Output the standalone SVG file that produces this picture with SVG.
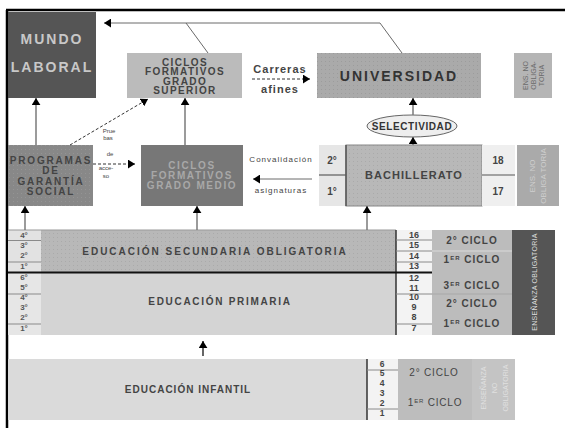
<svg xmlns="http://www.w3.org/2000/svg" width="565" height="428" viewBox="0 0 565 428">
<defs>
<style>
text{font-family:"Liberation Sans",Arial,sans-serif}
.b{font-weight:bold}
.m{text-anchor:middle}
.conn{fill:none;stroke:#7a7a7a;stroke-width:1.5}
.thin{fill:none;stroke:#6a6a6a;stroke-width:1}
.dash{fill:none;stroke:#333;stroke-width:1;stroke-dasharray:3 2}
.sep{stroke:#8a8a8a;stroke-width:1}
.dk{fill:#444}
</style>
<marker id="ah" viewBox="0 0 8 10" refX="8" refY="5" markerWidth="7" markerHeight="9" markerUnits="userSpaceOnUse" orient="auto"><path d="M0,0L8,5L0,10z" fill="#000"/></marker>
<pattern id="dotA" width="4" height="4" patternUnits="userSpaceOnUse"><rect width="4" height="4" fill="#aaaaaa"/><rect x="1" y="1" width="1" height="1" fill="#9c9c9c"/></pattern>
<pattern id="dotB" width="4" height="4" patternUnits="userSpaceOnUse"><rect width="4" height="4" fill="#b8b8b8"/><rect x="1" y="1" width="1" height="1" fill="#aaaaaa"/></pattern>
<pattern id="dotC" width="4" height="4" patternUnits="userSpaceOnUse"><rect width="4" height="4" fill="#888888"/><rect x="1" y="1" width="1" height="1" fill="#949494"/></pattern>
</defs>
<rect width="565" height="428" fill="#fff"/>
<g id="frame">
<line x1="6" y1="10" x2="565" y2="10" stroke="#000" stroke-width="2.5"/>
<line x1="7" y1="10" x2="7" y2="428" stroke="#000" stroke-width="2.5"/>
</g>

<g id="mundo-laboral">
<rect x="8" y="12" width="88" height="86" fill="#555"/>
<text class="b m" x="52" y="44" font-size="14" letter-spacing="2" fill="#c8c8c8">MUNDO</text>
<text class="b m" x="52" y="72" font-size="14" letter-spacing="2" fill="#c8c8c8">LABORAL</text>
</g>

<g id="cfgs">
<rect x="127" y="53" width="115" height="45" fill="#bbb"/>
<g class="b m dk" font-size="10" letter-spacing="1.4">
<text x="185" y="65.5">CICLOS</text>
<text x="185" y="75">FORMATIVOS</text>
<text x="185" y="84.5">GRADO</text>
<text x="185" y="94">SUPERIOR</text>
</g>
</g>

<g id="carreras">
<text class="b m dk" x="280" y="73" font-size="11" letter-spacing="1">Carreras</text>
<text class="b m dk" x="280" y="93" font-size="11" letter-spacing="1">afines</text>
</g>

<g id="universidad">
<rect x="317" y="53" width="164" height="45" fill="url(#dotA)"/>
<text class="b m" x="399" y="80.5" font-size="14" letter-spacing="2" fill="#333">UNIVERSIDAD</text>
</g>

<g id="ens-no-oblig-top">
<rect x="514" y="53" width="38" height="45" fill="#b5b5b5"/>
<g class="m" font-size="7" fill="#6a6a6a">
<text transform="translate(527.5,75.5) rotate(-90)">ENS. NO</text>
<text transform="translate(535.5,75.5) rotate(-90)">OBLIGA-</text>
<text transform="translate(543.5,75.5) rotate(-90)">TORIA</text>
</g>
</g>

<g id="selectividad">
<ellipse cx="412" cy="126" rx="45" ry="11" fill="#eee" stroke="#666" stroke-width="1"/>
<text class="b m" x="412" y="129.5" font-size="10" letter-spacing="0.6" fill="#333">SELECTIVIDAD</text>
</g>

<g id="programas">
<rect x="8" y="145" width="85" height="61" fill="url(#dotC)"/>
<g class="b m dk" font-size="10" letter-spacing="1.8">
<text x="51" y="164">PROGRAMAS</text>
<text x="51" y="174">DE</text>
<text x="51" y="184.5">GARANTÍA</text>
<text x="51" y="194.5">SOCIAL</text>
</g>
</g>

<g id="pruebas">
<g class="m" font-size="6" fill="#444">
<text x="109" y="133">Prue</text>
<text x="108" y="139.5">bas</text>
<text x="110" y="155.5">de</text>
<text x="106" y="169.5">acce-</text>
<text x="106" y="177.5">so</text>
</g>
</g>

<g id="cfgm">
<rect x="141" y="145" width="102" height="61" fill="#777"/>
<g class="b m" font-size="10" letter-spacing="1.6" fill="#a8a8a8">
<text x="192" y="168.5">CICLOS</text>
<text x="192" y="178.5">FORMATIVOS</text>
<text x="192" y="188.5">GRADO MEDIO</text>
</g>
</g>

<g id="convalidacion">
<text class="m" x="281" y="162" font-size="8" letter-spacing="1" fill="#444">Convalidación</text>
<text class="m" x="281" y="193" font-size="8" letter-spacing="1" fill="#444">asignaturas</text>
</g>

<g id="bach-cursos">
<rect x="319" y="145" width="27" height="61" fill="#e6e6e6"/>
<line x1="319" y1="175" x2="346" y2="175" stroke="#777" stroke-width="1.5"/>
<text class="b m dk" x="332" y="164" font-size="10">2°</text>
<text class="b m dk" x="332" y="194.5" font-size="10">1°</text>
</g>

<g id="bachillerato">
<rect x="346" y="145" width="136" height="61" fill="url(#dotB)" stroke="#888" stroke-width="1"/>
<line x1="346" y1="145" x2="346" y2="206" stroke="#555" stroke-width="1.5"/>
<text class="b m dk" x="414" y="179" font-size="11" letter-spacing="1">BACHILLERATO</text>
</g>

<g id="bach-edades">
<rect x="482" y="145" width="33" height="61" fill="#efefef"/>
<line x1="482" y1="175" x2="515" y2="175" stroke="#888" stroke-width="1.5"/>
<text class="b m dk" x="498" y="164" font-size="10">18</text>
<text class="b m dk" x="498" y="194.5" font-size="10">17</text>
</g>

<g id="ens-no-oblig-bach">
<rect x="517" y="145" width="42" height="61" fill="#aaa"/>
<g class="m" font-size="8" fill="#cfcfcf">
<text transform="translate(535,176) rotate(-90)">ENS. NO</text>
<text transform="translate(546,176) rotate(-90)">OBLIGA TORIA</text>
</g>
</g>

<g id="eso">
<rect x="8" y="230" width="388" height="42" fill="url(#dotB)"/>
<rect x="8" y="230" width="33" height="42" fill="#e2e2e2"/>
<line class="sep" x1="8" y1="240.5" x2="41" y2="240.5"/>
<line class="sep" x1="8" y1="262" x2="41" y2="262"/>
<line x1="8" y1="230" x2="396" y2="230" stroke="#999" stroke-width="1"/>
<g class="b m" font-size="8" fill="#555">
<text x="24" y="238">4°</text>
<text x="24" y="248">3°</text>
<text x="24" y="258">2°</text>
<text x="24" y="268.5">1°</text>
</g>
<text class="b m dk" x="215" y="254.5" font-size="10" letter-spacing="2">EDUCACIÓN SECUNDARIA OBLIGATORIA</text>
</g>

<g id="primaria">
<rect x="8" y="272" width="388" height="63" fill="#d4d4d4"/>
<rect x="8" y="272" width="33" height="63" fill="#e6e6e6"/>
<line class="sep" x1="8" y1="294" x2="41" y2="294"/>
<line class="sep" x1="8" y1="324" x2="41" y2="324"/>
<g class="b m" font-size="8" fill="#555">
<text x="24" y="280">6°</text>
<text x="24" y="290">5°</text>
<text x="24" y="300">4°</text>
<text x="24" y="310">3°</text>
<text x="24" y="319.5">2°</text>
<text x="24" y="331">1°</text>
</g>
<text class="b m dk" x="220" y="305" font-size="10" letter-spacing="1.7">EDUCACIÓN PRIMARIA</text>
</g>

<g id="edades-obligatoria">
<rect x="396" y="230" width="36" height="105" fill="#f3f3f3"/>
<line x1="396" y1="230" x2="396" y2="335" stroke="#333" stroke-width="1.5"/>
<line class="sep" x1="396" y1="240" x2="432" y2="240"/>
<line class="sep" x1="396" y1="251" x2="432" y2="251"/>
<line class="sep" x1="396" y1="262" x2="432" y2="262"/>
<line class="sep" x1="396" y1="294" x2="432" y2="294"/>
<line class="sep" x1="396" y1="324" x2="432" y2="324"/>
<g class="b m dk" font-size="9">
<text x="414" y="238">16</text>
<text x="414" y="248">15</text>
<text x="414" y="258.5">14</text>
<text x="414" y="268.5">13</text>
<text x="414" y="280.5">12</text>
<text x="414" y="290.5">11</text>
<text x="414" y="299.5">10</text>
<text x="414" y="310">9</text>
<text x="414" y="320">8</text>
<text x="414" y="331">7</text>
</g>
</g>

<g id="ciclos-obligatoria">
<rect x="432" y="230" width="80" height="105" fill="#bcbcbc"/>
<line x1="432" y1="251" x2="512" y2="251" stroke="#dadada" stroke-width="1"/>
<line x1="432" y1="294" x2="512" y2="294" stroke="#a8a8a8" stroke-width="1"/>
<g class="b m dk" font-size="10" letter-spacing="1">
<text x="472" y="243.5">2° CICLO</text>
<text x="472" y="263">1<tspan font-size="6" dy="-3">ER</tspan><tspan dy="3"> CICLO</tspan></text>
<text x="472" y="288.5">3<tspan font-size="6" dy="-3">ER</tspan><tspan dy="3"> CICLO</tspan></text>
<text x="472" y="306.5">2° CICLO</text>
<text x="472" y="326.5">1<tspan font-size="6" dy="-3">ER</tspan><tspan dy="3"> CICLO</tspan></text>
</g>
</g>

<line x1="8" y1="272.5" x2="432" y2="272.5" stroke="#111" stroke-width="2"/>

<g id="ens-obligatoria">
<rect x="512" y="230" width="43" height="105" fill="#555"/>
<text class="m" transform="translate(537,282) rotate(-90)" font-size="7" letter-spacing="0.3" fill="#dcdcdc">ENSEÑANZA OBLIGATORIA</text>
</g>

<g id="infantil">
<rect x="8" y="359" width="359" height="61" fill="#dadada"/>
<text class="b m dk" x="188" y="392.5" font-size="10" letter-spacing="1">EDUCACIÓN INFANTIL</text>
</g>

<g id="edades-infantil">
<rect x="367" y="359" width="31" height="61" fill="#f3f3f3"/>
<line x1="367" y1="359" x2="367" y2="420" stroke="#333" stroke-width="1.5"/>
<line class="sep" x1="367" y1="370" x2="398" y2="370"/>
<line class="sep" x1="367" y1="409" x2="398" y2="409"/>
<g class="b m dk" font-size="8.5">
<text x="382" y="366.5">6</text>
<text x="382" y="376">5</text>
<text x="382" y="386">4</text>
<text x="382" y="395.5">3</text>
<text x="382" y="405.5">2</text>
<text x="382" y="416">1</text>
</g>
</g>

<g id="ciclos-infantil">
<rect x="398" y="359" width="74" height="61" fill="#bdbdbd"/>
<g class="m dk" font-size="10" letter-spacing="0.8">
<text x="434" y="376">2° CICLO</text>
<text x="435" y="406">1<tspan font-size="6" dy="-3">ER</tspan><tspan dy="3"> CICLO</tspan></text>
</g>
</g>

<g id="ens-no-oblig-infantil">
<rect x="472" y="359" width="43" height="61" fill="#c4c4c4"/>
<g class="m" font-size="7" fill="#e0e0e0">
<text transform="translate(485.5,388) rotate(-90)">ENSEÑANZA</text>
<text transform="translate(496.5,388) rotate(-90)">NO</text>
<text transform="translate(507.5,388) rotate(-90)">OBLIGATORIA</text>
</g>
</g>

<g id="connectors">
<path class="thin" d="M402,53L380,23L104,23" marker-end="url(#ah)"/>
<path class="thin" d="M208,53L186,23"/>
<path class="dash" d="M252,79L310,79" marker-end="url(#ah)"/>
<path class="conn" d="M413,115L413,98" marker-end="url(#ah)"/>
<path class="conn" d="M413,145L413,137" marker-end="url(#ah)"/>
<path class="conn" d="M36,145L36,98" marker-end="url(#ah)"/>
<path class="conn" d="M185,145L185,98" marker-end="url(#ah)"/>
<path class="dash" d="M70,145L148,99" marker-end="url(#ah)"/>
<path class="dash" d="M93,164L135,164" marker-end="url(#ah)"/>
<path class="thin" stroke="#333" d="M312,179L253,179" marker-end="url(#ah)"/>
<path class="conn" d="M25,230L25,206" marker-end="url(#ah)"/>
<path class="conn" d="M197,230L197,206" marker-end="url(#ah)"/>
<path class="conn" d="M367,230L367,206" marker-end="url(#ah)"/>
<path fill="none" stroke="#000" stroke-width="1.2" d="M203,356L203,341" marker-end="url(#ah)"/>
</g>
</svg>
